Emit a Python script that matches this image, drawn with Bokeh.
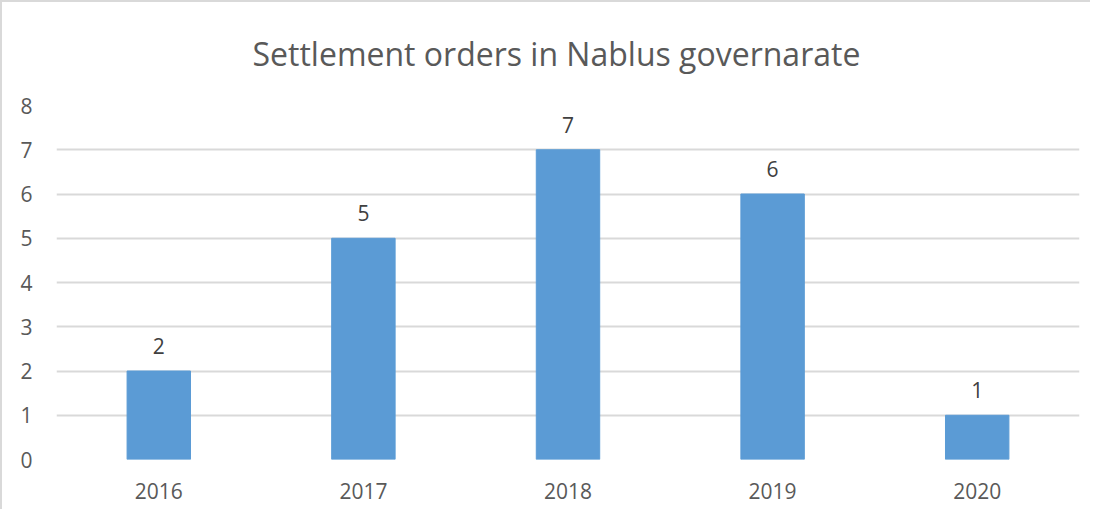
from bokeh.plotting import figure
from bokeh.models import FactorRange, Range1d, FixedTicker, ColumnDataSource
from bokeh.core.properties import value
from bokeh.embed import file_html
from bokeh.resources import INLINE

years = ["2016", "2017", "2018", "2019", "2020"]
orders = [2, 5, 7, 6, 1]
y_ticks = [0, 1, 2, 3, 4, 5, 6, 7, 8]
title_text = "Settlement orders in Nablus governarate"

FONT = "Open Sans"
src = ColumnDataSource(dict(x=years, y=orders, lbl=[str(v) for v in orders]))

p = figure(x_range=FactorRange(factors=years, range_padding=0),
           y_range=Range1d(0, 8),
           width=1090, height=509, output_backend="svg", toolbar_location=None,
           min_border_left=54, min_border_right=13, min_border_bottom=52, min_border_top=100)
p.styles = {"border": "2px solid #d9d9d9", "border-right": "none", "border-bottom": "none"}

p.title.text = title_text
p.title.align = "left"
p.title.offset = 196
p.title.vertical_align = "top"
p.title.text_font = FONT
p.title.text_font_size = "32px"
p.title.text_font_style = "normal"
p.title.text_color = "#595959"
p.title.standoff = 58

p.vbar(x="x", top="y", width=0.31, source=src, color="#5B9BD5")
p.text(x="x", y="y", text="lbl", source=src, text_align="center", text_baseline="middle",
       y_offset=-25, text_font=value(FONT), text_font_size="21px", text_color="#404040")

p.outline_line_color = None
p.xgrid.grid_line_color = None
p.ygrid.grid_line_color = "#d9d9d9"
p.ygrid.grid_line_width = 2
p.yaxis.ticker = FixedTicker(ticks=y_ticks)
for ax in (p.xaxis, p.yaxis):
    ax.axis_line_color = None
    ax.major_tick_line_color = None
    ax.minor_tick_line_color = None
    ax.major_label_text_font = FONT
    ax.major_label_text_font_size = "21px"
    ax.major_label_text_color = "#595959"
p.xaxis.major_label_standoff = 17
p.yaxis.major_label_standoff = 18

open("out.html", "w").write(file_html(p, INLINE))
